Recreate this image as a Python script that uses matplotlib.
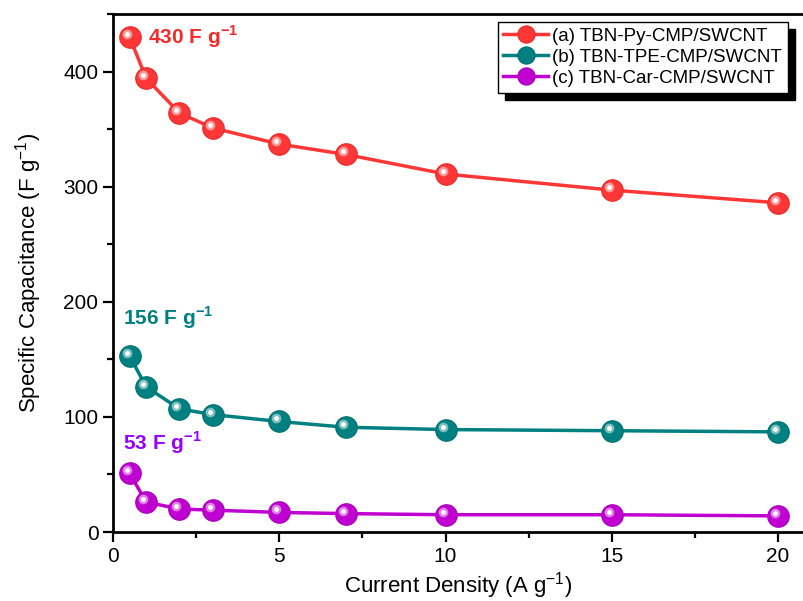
import numpy as np
import matplotlib
matplotlib.use("Agg")
import matplotlib.pyplot as plt
from matplotlib.ticker import MultipleLocator
from matplotlib.transforms import offset_copy
from matplotlib.patches import Rectangle

plt.rcParams['font.family'] = ['Liberation Sans', 'DejaVu Sans']

current = [0.5, 1, 2, 3, 5, 7, 10, 15, 20]
py_cmp = [430, 394, 364, 351, 337, 328, 311, 297, 286]
tpe_cmp = [153, 126, 107, 102, 96, 91, 89, 88, 87]
car_cmp = [51, 26, 20, 19, 17, 16, 15, 15, 14]

names = ["(a) TBN-Py-CMP/SWCNT", "(b) TBN-TPE-CMP/SWCNT", "(c) TBN-Car-CMP/SWCNT"]
colors = ["#ff3636", "#008080", "#c000d0"]
edge = ["#e82a2a", "#007070", "#a800b8"]
label_colors = ["#f52a2a", "#008080", "#9a00ff"]
labels = ["430 F g$^{\\mathregular{-1}}$", "156 F g$^{\\mathregular{-1}}$", "53 F g$^{\\mathregular{-1}}$"]
label_pos = [(1.05, 430), (0.3, 186), (0.3, 78)]

fig = plt.figure(figsize=(8.04, 6.01), dpi=100)
ax = fig.add_axes([0.1405, 0.1148, 0.8595, 0.8619])

hl = offset_copy(ax.transData, fig=fig, x=-3, y=3, units='dots')
for ys, c, ec, name in zip([py_cmp, tpe_cmp, car_cmp], colors, edge, names):
    ax.plot(current, ys, '-o', color=c, lw=2.5, ms=15.5, mfc=c, mec=ec, mew=0.8, label=name)
    ax.plot(current, ys, 'o', color='white', ms=7, mew=0, alpha=0.5, transform=hl)
    ax.plot(current, ys, 'o', color='white', ms=3.5, mew=0, transform=hl)

for txt, (x, y), c in zip(labels, label_pos, label_colors):
    ax.text(x, y, txt, color=c, fontsize=15, fontweight='bold', va='center', ha='left')

ax.set_xlim(0, 20.78)
ax.set_ylim(0, 450)
ax.xaxis.set_major_locator(MultipleLocator(5))
ax.xaxis.set_minor_locator(MultipleLocator(2.5))
ax.yaxis.set_major_locator(MultipleLocator(100))
ax.yaxis.set_minor_locator(MultipleLocator(50))
ax.tick_params(which='major', direction='out', length=7, width=1.6, labelsize=15)
ax.tick_params(which='minor', direction='out', length=4, width=1.6)
ax.tick_params(top=False, right=False)
for s in ['left', 'bottom', 'top']:
    ax.spines[s].set_linewidth(2)
ax.spines['right'].set_visible(False)

ax.set_xlabel("Current Density (A g$^{\\mathregular{-1}}$)", fontsize=16, labelpad=3)
ax.set_ylabel("Specific Capacitance (F g$^{\\mathregular{-1}}$)", fontsize=16, labelpad=14)

leg = ax.legend(loc='upper left', bbox_to_anchor=(0.557, 0.985), borderaxespad=0,
                fontsize=13.5, frameon=True, fancybox=False, edgecolor='black', framealpha=1,
                handlelength=2.4, handletextpad=0.2, borderpad=0.3, labelspacing=0.22,
                markerscale=0.8)
leg.get_frame().set_linewidth(1)
leg.set_zorder(6)
fig.canvas.draw()
bb = leg.get_window_extent().transformed(fig.transFigure.inverted())
dx, dy = 7 / 804, 7 / 601
ax.add_patch(Rectangle((bb.x0 + dx, bb.y0 - dy), bb.width, bb.height,
                       transform=fig.transFigure, color='black', zorder=5, clip_on=False))

fig.savefig("out.png", dpi=100)
